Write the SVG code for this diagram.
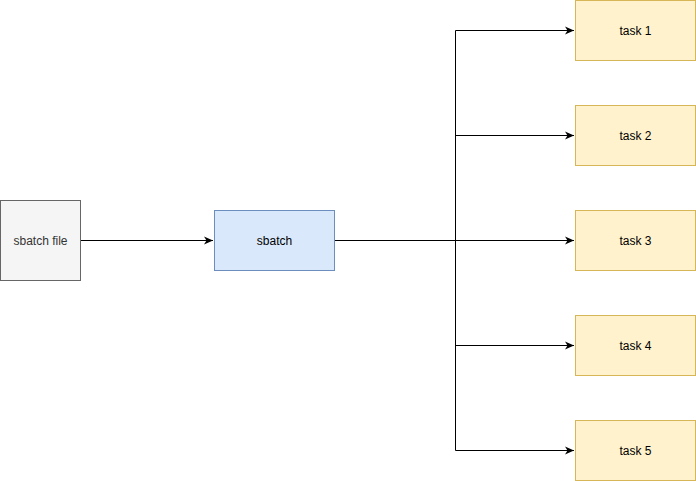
<svg xmlns="http://www.w3.org/2000/svg" width="696" height="481" viewBox="0 0 696 481">
<defs>
<marker id="arr" viewBox="0 0 10 10" refX="9" refY="5" markerWidth="10" markerHeight="10" markerUnits="userSpaceOnUse" orient="auto">
<path d="M0,1 L9,5 L0,9 L2.5,5 Z" fill="#000"/>
</marker>
<style>
text{font-family:"Liberation Sans",Arial,sans-serif;font-size:12px;text-anchor:middle;dominant-baseline:central;fill:#000}
.task rect{fill:#fff2cc;stroke:#d6b656}
.conn path{fill:none;stroke:#000;stroke-width:1}
</style>
</defs>
<rect width="696" height="481" fill="#fff"/>
<g class="conn">
<path d="M80.5,240.5 H213" marker-end="url(#arr)"/>
<path d="M334.5,240.5 H574" marker-end="url(#arr)"/>
<path d="M455.5,240.5 V30.5 H574" marker-end="url(#arr)"/>
<path d="M455.5,240.5 V135.5 H574" marker-end="url(#arr)"/>
<path d="M455.5,240.5 V345.5 H574" marker-end="url(#arr)"/>
<path d="M455.5,240.5 V450.5 H574" marker-end="url(#arr)"/>
</g>
<g id="sbatch-file">
<rect x="0.5" y="200.5" width="80" height="80" fill="#f5f5f5" stroke="#666666"/>
<text x="40.5" y="240.5" style="fill:#333333">sbatch file</text>
</g>
<g id="sbatch">
<rect x="214.5" y="210.5" width="120" height="60" fill="#dae8fc" stroke="#6c8ebf"/>
<text x="274.5" y="240.5">sbatch</text>
</g>
<g id="task1" class="task"><rect x="575.5" y="0.5" width="120" height="60"/><text x="635.5" y="30.5">task 1</text></g>
<g id="task2" class="task"><rect x="575.5" y="105.5" width="120" height="60"/><text x="635.5" y="135.5">task 2</text></g>
<g id="task3" class="task"><rect x="575.5" y="210.5" width="120" height="60"/><text x="635.5" y="240.5">task 3</text></g>
<g id="task4" class="task"><rect x="575.5" y="315.5" width="120" height="60"/><text x="635.5" y="345.5">task 4</text></g>
<g id="task5" class="task"><rect x="575.5" y="420.5" width="120" height="60"/><text x="635.5" y="450.5">task 5</text></g>
</svg>
